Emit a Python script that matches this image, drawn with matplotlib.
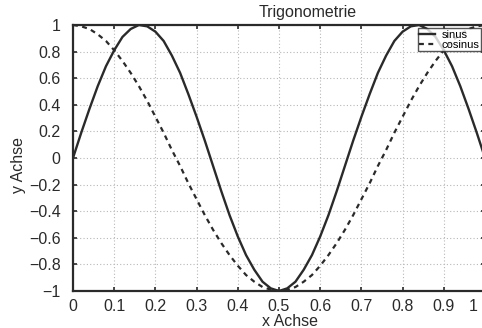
import numpy as np
import matplotlib
matplotlib.use("Agg")
import matplotlib.pyplot as plt
import matplotlib.transforms as mtransforms

# -----------------------------
# Data
# -----------------------------
x = [0.00, 0.02, 0.04, 0.06, 0.08, 0.10, 0.12, 0.14, 0.16, 0.18,
     0.20, 0.22, 0.24, 0.26, 0.28, 0.30, 0.32, 0.34, 0.36, 0.38,
     0.40, 0.42, 0.44, 0.46, 0.48, 0.50, 0.52, 0.54, 0.56, 0.58,
     0.60, 0.62, 0.64, 0.66, 0.68, 0.70, 0.72, 0.74, 0.76, 0.78,
     0.80, 0.82, 0.84, 0.86, 0.88, 0.90, 0.92, 0.94, 0.96, 0.98, 1.00]

sinus = [0.00, 0.19, 0.37, 0.54, 0.69, 0.81, 0.91, 0.97, 1.00, 0.99,
         0.95, 0.88, 0.77, 0.64, 0.48, 0.31, 0.13, -0.06, -0.25, -0.43,
         -0.59, -0.73, -0.84, -0.93, -0.98, -1.00, -0.98, -0.93, -0.84, -0.73,
         -0.59, -0.43, -0.25, -0.06, 0.13, 0.31, 0.48, 0.64, 0.77, 0.88,
         0.95, 0.99, 1.00, 0.97, 0.91, 0.81, 0.69, 0.54, 0.37, 0.19, 0.00]

cosinus = [1.00, 0.99, 0.97, 0.93, 0.88, 0.81, 0.73, 0.64, 0.54, 0.43,
           0.31, 0.19, 0.06, -0.06, -0.19, -0.31, -0.43, -0.54, -0.64, -0.73,
           -0.81, -0.88, -0.93, -0.97, -0.99, -1.00, -0.99, -0.97, -0.93, -0.88,
           -0.81, -0.73, -0.64, -0.54, -0.43, -0.31, -0.19, -0.06, 0.06, 0.19,
           0.31, 0.43, 0.54, 0.64, 0.73, 0.81, 0.88, 0.93, 0.97, 0.99, 1.00]

x_ticks = [0, 0.1, 0.2, 0.3, 0.4, 0.5, 0.6, 0.7, 0.8, 0.9, 1]
x_tick_labels = ["0", "0.1", "0.2", "0.3", "0.4", "0.5", "0.6", "0.7", "0.8", "0.9", "1"]
y_ticks = [-1, -0.8, -0.6, -0.4, -0.2, 0, 0.2, 0.4, 0.6, 0.8, 1]
y_tick_labels = ["\u22121", "\u22120.8", "\u22120.6", "\u22120.4", "\u22120.2", "0",
                 "0.2", "0.4", "0.6", "0.8", "1"]

# -----------------------------
# Plot
# -----------------------------
plt.rcParams["font.family"] = ["Liberation Sans", "DejaVu Sans"]
ink = "#2a2a2a"
fs = 11.5

fig = plt.figure(figsize=(4.82, 3.28), dpi=100)
# axes run past the right edge, like the cropped scan
ax = fig.add_axes([73 / 482, 1 - 291 / 328, 412 / 482, 266 / 328])

ax.plot(x, sinus, color=ink, linewidth=1.7, label="sinus")
ax.plot(x, cosinus, color=ink, linewidth=1.6, linestyle=(0, (2.2, 2.0)), label="cosinus")

ax.set_xlim(0, 1)
ax.set_ylim(-1, 1)
ax.set_xticks(x_ticks)
ax.set_xticklabels(x_tick_labels)
ax.set_yticks(y_ticks)
ax.set_yticklabels(y_tick_labels)

ax.grid(True, color="#b8b8b8", linestyle=(0, (1, 2)), linewidth=0.8)
ax.tick_params(direction="in", length=3, width=1.2, colors=ink,
               labelsize=fs, top=True, right=True)
ax.tick_params(axis="y", pad=9)
ax.tick_params(axis="x", pad=6)
for side in ax.spines.values():
    side.set_linewidth(1.6)
    side.set_color(ink)

# the last x label sits squeezed in at the cut edge
last = ax.get_xticklabels()[-1]
last.set_transform(last.get_transform() +
                   mtransforms.ScaledTranslation(-12 / 100, 0, fig.dpi_scale_trans))

fig.text(308 / 482, 1 - 13 / 328, "Trigonometrie", ha="center", va="center",
         fontsize=fs, color=ink)
fig.text(290 / 482, 1 - 321 / 328, "x Achse", ha="center", va="center",
         fontsize=fs, color=ink)
fig.text(19 / 482, 1 - 165 / 328, "y Achse", ha="center", va="center",
         fontsize=fs, color=ink, rotation=90)

leg = ax.legend(loc="upper right", bbox_to_anchor=((481 - 73) / 412, (291 - 28) / 266),
                borderaxespad=0, fontsize=8,
                handlelength=1.4, handletextpad=0.6, borderpad=0.15,
                labelspacing=0.0, frameon=True, fancybox=False)
leg.get_frame().set_edgecolor(ink)
leg.get_frame().set_linewidth(1.0)

fig.savefig("out.png", dpi=100)
